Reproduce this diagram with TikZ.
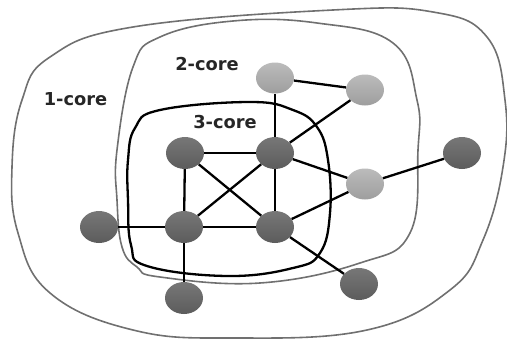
\documentclass[tikz,border=0pt]{standalone}
\usepackage{fontspec}
\newfontfamily\lblfont{DejaVu Sans}[BoldFont=DejaVu Sans Bold]
\usetikzlibrary{shapes.geometric}
\definecolor{darkn}{HTML}{5C5C5C}
\definecolor{darknt}{HTML}{777777}
\definecolor{lightn}{HTML}{9E9E9E}
\definecolor{lightnt}{HTML}{BBBBBB}
\definecolor{ringgray}{HTML}{707070}
\tikzset{
  darkball/.style={ellipse, minimum width=38pt, minimum height=32pt, inner sep=0pt,
    top color=darknt, bottom color=darkn, draw=none},
  lightball/.style={ellipse, minimum width=38pt, minimum height=31pt, inner sep=0pt,
    top color=lightnt, bottom color=lightn, draw=none},
  edge/.style={line width=2.3pt, black},
  ring/.style={line width=1.6pt, ringgray},
  innerring/.style={line width=2.3pt, black},
  lbl/.style={font=\lblfont\bfseries\fontsize{17.8}{20}\selectfont, text=black!85, inner sep=0pt}
}
\begin{document}
\begin{tikzpicture}[x=1pt, y=-1pt]
\useasboundingbox (0,0) rectangle (507,340);
% 1-core
\draw[ring] plot[smooth cycle, tension=0.7] coordinates {
 (12,167) (22,100) (50,57) (133,27) (333,10) (433,12) (487,37) (505,100)
 (503,167) (483,240) (450,290) (367,330) (233,338) (133,330) (50,293) (18,233)};
% 2-core
\draw[ring] plot[smooth cycle, tension=0.7] coordinates {
 (117,150) (133,67) (160,37) (233,21) (317,23) (393,43) (417,100) (418,150)
 (410,233) (360,263) (260,283) (160,277) (137,267) (122,247) (117,200)};
% 3-core
\draw[innerring] plot[smooth cycle, tension=0.7] coordinates {
 (128,160) (135,128) (160,110) (250,102) (293,110) (317,127) (328,160)
 (330,213) (320,253) (293,268) (227,276) (147,266) (131,245) (128,200)};
% nodes
\node[darkball] (A) at (185,153) {};
\node[darkball] (B) at (275,153) {};
\node[darkball] (C) at (184,227) {};
\node[darkball] (D) at (275,227) {};
\node[lightball] (E) at (275,78) {};
\node[lightball] (F) at (365,90) {};
\node[lightball] (G) at (365,184) {};
\node[darkball] (H) at (462,153) {};
\node[darkball] (I) at (99,227) {};
\node[darkball] (J) at (184,298) {};
\node[darkball] (K) at (359,284) {};
% edges
\draw[edge] (A) -- (B);
\draw[edge] (A) -- (C);
\draw[edge] (A) -- (D);
\draw[edge] (B) -- (C);
\draw[edge] (B) -- (D);
\draw[edge] (C) -- (D);
\draw[edge] (B) -- (E);
\draw[edge] (E) -- (F);
\draw[edge] (B) -- (F);
\draw[edge] (B) -- (G);
\draw[edge] (G) -- (D);
\draw[edge] (G) -- (H);
\draw[edge] (I) -- (C);
\draw[edge] (C) -- (J);
\draw[edge] (D) -- (K);
% labels
\node[lbl] (l1) at (75.5,99) {1-core};
\node[lbl] (l2) at (207,64) {2-core};
\node[lbl] (l3) at (225,122.5) {3-core};
\end{tikzpicture}
\end{document}
